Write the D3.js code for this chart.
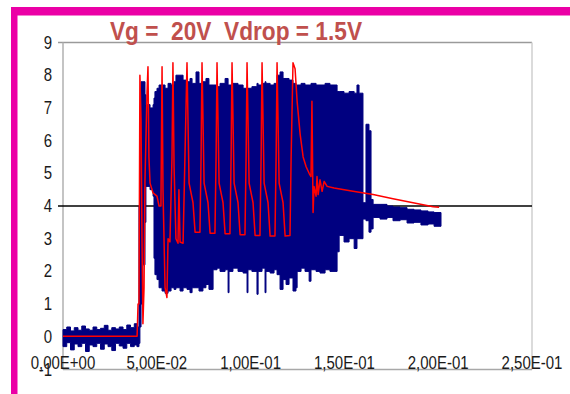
<!DOCTYPE html>
<html>
<head>
<meta charset="utf-8">
<script src="https://cdn.jsdelivr.net/npm/d3@7"></script>
<style>
body { margin: 0; background: #fff; }
text { font-family: "Liberation Sans", Arial, sans-serif; }
</style>
</head>
<body>
<svg id="chart" width="570" height="394"></svg>
<script>
// axis ticks
var xTicks = [0, 0.05, 0.1, 0.15, 0.2, 0.25];
var xTickLabels = ["0,00E+00", "5,00E-02", "1,00E-01", "1,50E-01", "2,00E-01", "2,50E-01"];
var yTicks = [-1, 0, 1, 2, 3, 4, 5, 6, 7, 8, 9];
var refLevel = 4;
var title = "Vg =  20V  Vdrop = 1.5V";

// blue trace, read as upper / lower envelope of the dense signal (time in s)
var blueTime = [
  0, .002, .004, .006, .008, .010, .012, .014, .016, .018,
  .020, .022, .024, .026, .028, .030, .032, .034, .036, .038,
  .0394, .0405, .0410, .0416, .0426, .0437, .0442, .0464, .0480, .0485,
  .0490, .0501, .0512, .0528, .0544, .0560, .0576, .0592, .0602, .0624,
  .0640, .0661, .0677, .0688, .0709, .0725, .0746, .0762, .0778, .0800,
  .0821, .0837, .0864, .0880, .0885, .0906, .0933, .0960, .0981, .0986,
  .1007, .1034, .1040, .1061, .1077, .1082, .1104, .1125, .1141, .1157,
  .1173, .1189, .1205, .1226, .1242, .1248, .1269, .1290, .1312, .1322,
  .1349, .1370, .1397, .1423, .1450, .1461, .1472, .1498, .1525, .1552,
  .1567, .1578, .1599, .1615, .1631, .1642, .1653, .1690, .1727, .1759,
  .1797, .1834, .1871, .1908, .1946, .1978, .2015
];
var blueHigh = [
  .22, .30, .18, .28, .20, .33, .24, .20, .30, .22,
  .26, .35, .20, .28, .24, .30, .22, .36, .28, .40,
  .30, 4.0, 6.5, 7.8, 7.8, 7.4, 7.1, 7.0, 7.1, 7.3,
  7.5, 7.6, 7.7, 7.7, 7.6, 7.75, 7.7, 7.8, 8.0, 8.0,
  7.85, 7.8, 7.9, 7.75, 8.1, 7.75, 7.8, 7.9, 7.7, 7.7,
  7.65, 7.75, 7.9, 7.7, 7.7, 7.75, 7.7, 7.6, 7.55, 7.6,
  7.65, 7.75, 7.7, 7.75, 7.8, 7.75, 7.7, 7.75, 8.0, 8.1,
  7.9, 7.9, 7.85, 7.75, 7.7, 7.7, 7.75, 7.7, 7.7, 7.75,
  7.7, 7.7, 7.75, 7.7, 7.7, 7.5, 7.5, 7.45, 7.5, 7.45,
  7.7, 7.45, 4.1, 6.5, 6.3, 4.2, 4.05, 4.05, 4.0, 3.97,
  3.95, 3.9, 3.88, 3.85, 3.82, 3.8, 3.8
];
var blueLow = [
  -.30, -.18, -.40, -.22, -.30, -.20, -.45, -.25, -.30, -.20,
  -.38, -.22, -.30, -.42, -.20, -.28, -.35, -.20, -.30, -.25,
  -.30, -.20, .30, 1.0, 2.2, 3.5, 4.6, 4.5, 4.3, 2.4,
  1.9, 1.75, 1.5, 1.4, 1.33, 1.4, 1.5, 1.45, 1.5, 1.4,
  1.5, 1.45, 1.35, 1.5, 1.5, 1.4, 1.5, 1.6, 1.45, 2.05,
  2.1, 2.0, 2.05, 1.35, 2.0, 2.1, 2.0, 1.95, 1.35, 2.05,
  2.0, 1.3, 2.0, 2.1, 1.35, 2.0, 1.95, 2.05, 1.9, 1.45,
  1.75, 1.6, 1.8, 1.4, 1.5, 2.0, 2.1, 2.0, 1.7, 2.05,
  2.0, 1.95, 2.05, 2.0, 2.0, 2.6, 3.1, 2.9, 3.0, 2.7,
  3.0, 3.0, 3.6, 3.55, 3.2, 3.3, 3.65, 3.6, 3.65, 3.55,
  3.58, 3.48, 3.5, 3.42, 3.45, 3.38, 3.38
];

// red trace (time in s, value)
var redTime = [
  0, .0395, .0400, .0405, .0410, .0416, .0421, .0426, .0432, .0437,
  .0448, .0453, .0458, .0464, .0480, .0501, .0512, .0522, .0528, .0533,
  .0544, .0554, .0560, .0570, .0581, .0586, .0592, .0602, .0613, .0618,
  .0624, .0640, .0650, .0661, .0672, .0693, .0704, .0730, .0736, .0741,
  .0752, .0773, .0784, .0810, .0816, .0821, .0832, .0853, .0864, .0890,
  .0896, .0901, .0912, .0933, .0944, .0970, .0976, .0981, .0992, .1013,
  .1024, .1050, .1056, .1061, .1072, .1093, .1104, .1130, .1136, .1141,
  .1152, .1173, .1184, .1210, .1216, .1226, .1237, .1248, .1264, .1280,
  .1296, .1312, .1322, .1327, .1333, .1338, .1349, .1354, .1360, .1370,
  .1381, .1392, .1408, .1445, .1546, .1653, .1759, .1866, .1973, .2005
];
var redValue = [
  .02, .02, 1.0, 1.0, 8.0, 6.6, 3.0, .4, 1.5, 4.8,
  7.5, 8.26, 5.5, 4.7, 4.4, 4.3, 4.0, 4.0, 8.26, 4.5,
  1.5, 1.2, 3.0, 2.9, 5.5, 8.38, 5.2, 3.0, 2.86, 4.5,
  2.9, 2.86, 5.5, 8.38, 4.7, 4.1, 3.2, 3.2, 5.5, 8.38,
  4.7, 4.1, 3.17, 3.17, 5.5, 8.38, 4.7, 4.1, 3.15, 3.15,
  5.5, 8.38, 4.7, 4.1, 3.12, 3.12, 5.5, 8.38, 4.7, 4.1,
  3.1, 3.1, 5.5, 8.38, 4.7, 4.1, 3.08, 3.08, 5.5, 8.38,
  4.7, 4.1, 3.08, 3.1, 5.5, 8.38, 8.2, 7.2, 6.2, 5.5,
  5.2, 5.0, 4.9, 7.2, 3.8, 4.6, 4.3, 4.9, 4.35, 4.8,
  4.45, 4.75, 4.6, 4.55, 4.45, 4.35, 4.22, 4.1, 3.98, 3.96
];

var svg = d3.select("#chart");
var x = d3.scaleLinear().domain([0, 0.25]).range([63, 532]);
var y = d3.scaleLinear().domain([-1, 9]).range([369.5, 42.5]);
var stretch = "scale(1,1.17)";

// magenta frame
svg.append("rect").attr("x", 11).attr("y", 7).attr("width", 559).attr("height", 8.5).attr("fill", "#eb00a6");
svg.append("rect").attr("x", 11).attr("y", 7).attr("width", 6.5).attr("height", 387).attr("fill", "#eb00a6");

// plot area border
svg.append("line").attr("x1", 58).attr("x2", 532).attr("y1", y(9)).attr("y2", y(9)).attr("stroke", "#9a9a9a").attr("stroke-width", 1.5);
svg.append("line").attr("x1", 532).attr("x2", 532).attr("y1", y(9)).attr("y2", y(-1)).attr("stroke", "#cfcfcf").attr("stroke-width", 1.5);
svg.append("line").attr("x1", 63).attr("x2", 63).attr("y1", y(9)).attr("y2", y(-1)).attr("stroke", "#b0b0b0").attr("stroke-width", 1.5);
svg.append("line").attr("x1", 63).attr("x2", 532).attr("y1", y(-1)).attr("y2", y(-1)).attr("stroke", "#a8a8a8").attr("stroke-width", 1.5);

// reference line at 4
svg.append("line").attr("x1", 58).attr("x2", 532).attr("y1", y(refLevel)).attr("y2", y(refLevel))
  .attr("stroke", "#000").attr("stroke-width", 1.5);

// blue trace
var blueData = blueTime.map(function(t, i) { return {t: t, hi: blueHigh[i], lo: blueLow[i]}; });
var blueArea = d3.area()
  .x(function(d) { return x(d.t); })
  .y0(function(d) { return y(d.lo); })
  .y1(function(d) { return y(d.hi); })
  .curve(d3.curveStepAfter);
svg.append("path").datum(blueData).attr("d", blueArea)
  .attr("fill", "#000080").attr("stroke", "#000080").attr("stroke-width", 1);

// red trace
var redData = redTime.map(function(t, i) { return {t: t, v: redValue[i]}; });
var redLine = d3.line()
  .x(function(d) { return x(d.t); })
  .y(function(d) { return y(d.v); });
svg.append("path").datum(redData).attr("d", redLine)
  .attr("fill", "none").attr("stroke", "#ff0000").attr("stroke-width", 1.5).attr("stroke-linejoin", "round");

// y tick labels
svg.selectAll(".ylab").data(yTicks).enter().append("text")
  .attr("class", "ylab")
  .attr("transform", function(d) { return "translate(52," + (y(d) + 6) + ") " + stretch; })
  .attr("text-anchor", "end").attr("font-size", "15px").attr("fill", "#1a1a1a")
  .text(function(d) { return d; });

// x tick labels
svg.selectAll(".xlab").data(xTicks).enter().append("text")
  .attr("class", "xlab")
  .attr("transform", function(d) { return "translate(" + x(d) + ",369) " + stretch; })
  .attr("text-anchor", "middle").attr("font-size", "15px").attr("fill", "#1a1a1a")
  .text(function(d, i) { return xTickLabels[i]; });

// title (keep the double spaces)
svg.append("text")
  .attr("transform", "translate(110,40) " + stretch)
  .attr("font-size", "22.7px").attr("font-weight", "bold").attr("fill", "#c0504d")
  .style("white-space", "pre")
  .attr("textLength", 252).attr("lengthAdjust", "spacingAndGlyphs")
  .text(title);
</script>
</body>
</html>
